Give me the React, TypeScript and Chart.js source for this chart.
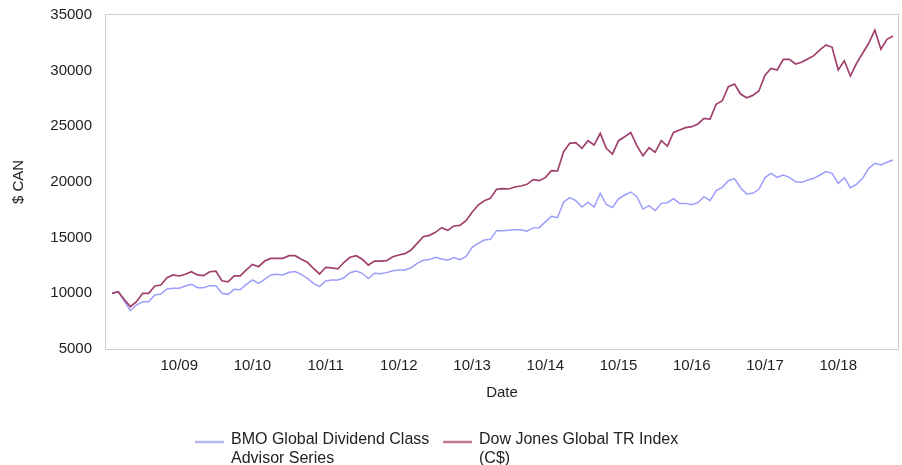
import React, { useEffect, useRef } from "react";
import { Chart, registerables } from "chart.js";

Chart.register(...registerables);

// Monthly points, 11/08 .. 07/19
const START_YEAR = 2008;
const START_MONTH = 11;
const POINT_COUNT = 129;
const months: string[] = Array.from({ length: POINT_COUNT }, (_, i) => {
  const k = START_MONTH - 1 + i;
  const m = (k % 12) + 1;
  const y = (START_YEAR + Math.floor(k / 12)) % 100;
  return `${String(m).padStart(2, "0")}/${String(y).padStart(2, "0")}`;
});

const tickLabels = ["10/09", "10/10", "10/11", "10/12", "10/13", "10/14", "10/15", "10/16", "10/17", "10/18"];
const yTicks = [5000, 10000, 15000, 20000, 25000, 30000, 35000];

const bmoLabel = ["BMO Global Dividend Class", "Advisor Series"];
const djLabel = ["Dow Jones Global TR Index", "(C$)"];

const bmoSeries = [
  10000, 10150, 9300, 8440, 8950, 9250, 9250, 9850, 9940, 10390,
  10450, 10450, 10660, 10810, 10510, 10510, 10690, 10690, 10000, 9910,
  10360, 10330, 10810, 11200, 10900, 11260, 11650, 11710, 11650, 11890,
  11950, 11710, 11350, 10900, 10600, 11110, 11200, 11200, 11400, 11850,
  12000, 11800, 11330, 11800, 11770, 11860, 12030, 12090, 12090, 12300,
  12700, 12970, 13030, 13240, 13090, 12970, 13210, 13030, 13290, 14130,
  14490, 14790, 14850, 15630, 15630, 15660, 15700, 15700, 15580, 15880,
  15900, 16420, 16920, 16800, 18200, 18600, 18320, 17750, 18180, 17750,
  18990, 17980, 17700, 18480, 18830, 19100, 18680, 17570, 17870, 17420,
  18080, 18140, 18500, 18080, 18080, 17960, 18140, 18680, 18320, 19220,
  19520, 20120, 20300, 19490, 18920, 18980, 19340, 20400, 20780, 20420,
  20630, 20420, 20030, 19970, 20180, 20330, 20630, 20930, 20780, 19880,
  20390, 19490, 19790, 20330, 21230, 21680, 21530, 21770, 21980,
];

const djSeries = [
  10000, 10150, 9450, 8800, 9250, 10000, 10000, 10660, 10750, 11400,
  11650, 11560, 11710, 11940, 11650, 11590, 11940, 12000, 11130, 11040,
  11560, 11560, 12100, 12600, 12390, 12900, 13140, 13140, 13140, 13380,
  13380, 13060, 12790, 12250, 11740, 12340, 12280, 12190, 12790, 13240,
  13380, 13060, 12540, 12900, 12900, 12930, 13290, 13440, 13560, 13890,
  14490, 15090, 15210, 15480, 15900, 15660, 16050, 16110, 16520, 17280,
  17930, 18320, 18530, 19340, 19400, 19370, 19550, 19640, 19790, 20210,
  20120, 20390, 21020, 20990, 22720, 23470, 23530, 23030, 23710, 23320,
  24370, 23030, 22510, 23710, 24070, 24450, 23260, 22360, 23080, 22670,
  23710, 23230, 24460, 24670, 24880, 24970, 25210, 25720, 25660, 26980,
  27300, 28560, 28800, 27900, 27570, 27780, 28170, 29600, 30200, 30060,
  31020, 31020, 30600, 30750, 31050, 31350, 31860, 32310, 32100, 30060,
  30890, 29520, 30660, 31560, 32460, 33650, 31920, 32820, 33110,
];

const FONT = "'Liberation Sans', Arial, sans-serif";
const BMO_COLOR = "#9d9dfb";
const DJ_COLOR = "#a0406c";
const BMO_LEGEND = "#b6b6f2";
const DJ_LEGEND = "#c07a98";

const framePlugin = {
  id: "frame",
  beforeDatasetsDraw(chart: any) {
    const { ctx, chartArea } = chart;
    ctx.save();
    ctx.strokeStyle = "#cccccc";
    ctx.lineWidth = 1;
    const l = Math.round(chartArea.left) - 0.5;
    const t = Math.round(chartArea.top) - 0.5;
    const r = Math.round(chartArea.right) + 0.5;
    const b = Math.round(chartArea.bottom) + 0.5;
    ctx.strokeRect(l, t, r - l, b - t);
    ctx.restore();
  },
};

const legendPlugin = {
  id: "customLegend",
  afterDraw(chart: any) {
    const { ctx } = chart;
    const items = [
      { color: BMO_LEGEND, lines: bmoLabel, x0: 195 },
      { color: DJ_LEGEND, lines: djLabel, x0: 443 },
    ];
    ctx.save();
    ctx.font = `16px ${FONT}`;
    ctx.textBaseline = "middle";
    ctx.textAlign = "left";
    const y1 = 440;
    const lh = 18.5;
    for (const it of items) {
      ctx.strokeStyle = it.color;
      ctx.lineWidth = 2.5;
      ctx.beginPath();
      ctx.moveTo(it.x0, y1 + 2);
      ctx.lineTo(it.x0 + 29, y1 + 2);
      ctx.stroke();
      ctx.fillStyle = "#222222";
      it.lines.forEach((t, k) => ctx.fillText(t, it.x0 + 36, y1 + k * lh));
    }
    ctx.restore();
  },
};

export default function App() {
  const ref = useRef<HTMLCanvasElement | null>(null);

  useEffect(() => {
    if (!ref.current) return;
    const chart = new Chart(ref.current, {
      type: "line",
      data: {
        datasets: [
          {
            label: djLabel.join(" "),
            data: djSeries.map((v, i) => ({ x: i, y: v })),
            borderColor: DJ_COLOR,
            borderWidth: 1.7,
            pointRadius: 0,
            tension: 0,
            order: 0,
          },
          {
            label: bmoLabel.join(" "),
            data: bmoSeries.map((v, i) => ({ x: i, y: v })),
            borderColor: BMO_COLOR,
            borderWidth: 1.5,
            pointRadius: 0,
            tension: 0,
            order: 1,
          },
        ],
      },
      options: {
        responsive: false,
        animation: false,
        layout: { padding: { left: 0, top: 15, right: 4, bottom: 56 } },
        plugins: {
          legend: { display: false },
          tooltip: { enabled: false },
        },
        scales: {
          x: {
            type: "linear",
            min: -1,
            max: 128.8,
            grid: { display: false, drawTicks: false },
            border: { display: false },
            afterFit(scale: any) {
              scale.height = 60;
              scale.paddingLeft = 0;
              scale.paddingRight = 0;
            },
            afterBuildTicks(scale: any) {
              scale.ticks = months
                .map((m, i) => ({ m, i }))
                .filter((o) => tickLabels.includes(o.m))
                .map((o) => ({ value: o.i }));
            },
            ticks: {
              padding: 8,
              maxRotation: 0,
              autoSkip: false,
              color: "#222222",
              font: { family: FONT, size: 15 },
              callback: (v: any) => months[Math.round(Number(v))] ?? "",
            },
            title: {
              display: true,
              text: "Date",
              color: "#222222",
              font: { family: FONT, size: 15 },
              padding: { top: 0, bottom: 7 },
            },
          },
          y: {
            min: 5000,
            max: 35000,
            grid: { display: false, drawTicks: false },
            border: { display: false },
            afterFit(scale: any) {
              scale.width = 106;
              scale.paddingTop = 0;
              scale.paddingBottom = 0;
            },
            afterBuildTicks(scale: any) {
              scale.ticks = yTicks.map((v) => ({ value: v }));
            },
            ticks: {
              padding: 14,
              color: "#222222",
              font: { family: FONT, size: 15 },
              callback: (v: any) => String(v),
            },
            title: {
              display: true,
              text: "$ CAN",
              color: "#222222",
              font: { family: FONT, size: 15 },
              padding: { top: 10, bottom: 0 },
            },
          },
        },
      },
      plugins: [framePlugin, legendPlugin],
    });
    return () => chart.destroy();
  }, []);

  return (
    <div style={{ position: "fixed", left: 0, top: 0, width: 902, height: 465, background: "#ffffff" }}>
      <canvas ref={ref} width={902} height={465} style={{ display: "block" }} />
    </div>
  );
}
